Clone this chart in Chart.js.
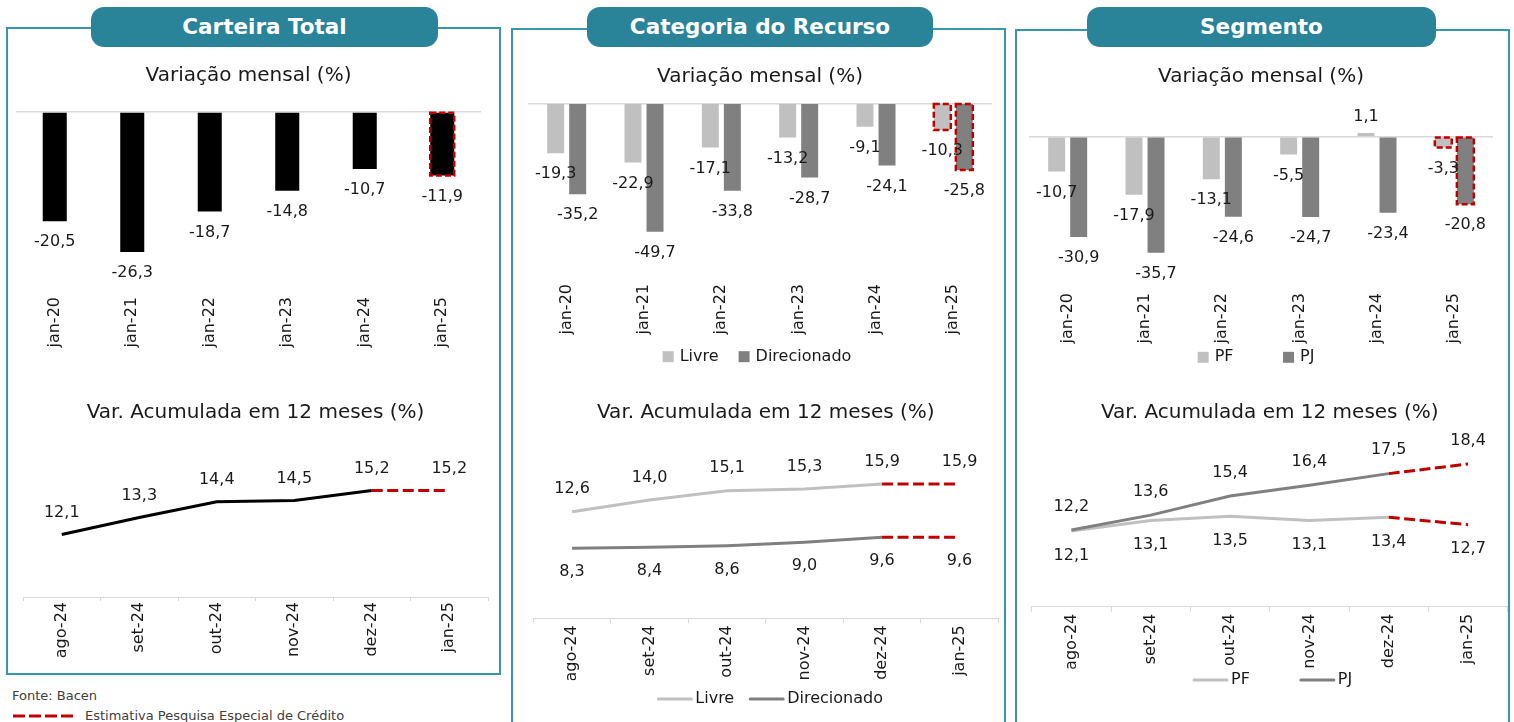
<!DOCTYPE html>
<html>
<head>
<meta charset="utf-8">
<script src="https://cdn.jsdelivr.net/npm/chart.js@4/dist/chart.umd.min.js"></script>
<style>
  body { margin: 0; width: 1514px; height: 722px; overflow: hidden; background: #fff; position: relative; font-family: 'DejaVu Sans', sans-serif; }
  .panel { position: absolute; box-sizing: border-box; border: 2px solid #3596ad; }
  .pill { position: absolute; top: 7px; height: 40px; border-radius: 13px; background: #2a8499; color: #fff;
          font-weight: bold; font-size: 21.5px; line-height: 40px; text-align: center; }
  canvas { position: absolute; }
  .note { position: absolute; font-size: 13px; line-height: 16px; color: #404040; white-space: nowrap; }
</style>
</head>
<body>

<div class="panel" style="left:6px; top:27px; width:495px; height:648px"></div>
<div class="panel" style="left:511px; top:28px; width:495px; height:720px"></div>
<div class="panel" style="left:1015px; top:29px; width:495px; height:720px"></div>

<div class="pill" style="left:91px; width:347px">Carteira Total</div>
<div class="pill" style="left:587px; width:346px">Categoria do Recurso</div>
<div class="pill" style="left:1087px; width:349px">Segmento</div>

<canvas id="barTotal" width="490" height="300" style="left:8px; top:50px"></canvas>
<canvas id="barCateg" width="490" height="325" style="left:514px; top:50px"></canvas>
<canvas id="barSegm" width="490" height="325" style="left:1018px; top:50px"></canvas>
<canvas id="lineTotal" width="490" height="269" style="left:8px; top:390px"></canvas>
<canvas id="lineCateg" width="490" height="327" style="left:514px; top:390px"></canvas>
<canvas id="lineSegm" width="494" height="308" style="left:1018px; top:390px"></canvas>

<div class="note" style="left:12px; top:688px">Fonte: Bacen</div>
<svg style="position:absolute; left:13px; top:713px" width="60" height="6">
  <line x1="0" y1="3" x2="60" y2="3" stroke="#c00000" stroke-width="3" stroke-dasharray="12,4"/>
</svg>
<div class="note" style="left:85px; top:708px">Estimativa Pesquisa Especial de Crédito</div>

<script>
// categorias
const barCats = ['jan-20', 'jan-21', 'jan-22', 'jan-23', 'jan-24', 'jan-25'];
const lineCats = ['ago-24', 'set-24', 'out-24', 'nov-24', 'dez-24', 'jan-25'];

// variação mensal (%)
const totalMensal = [-20.5, -26.3, -18.7, -14.8, -10.7, -11.9];
const livreMensal = [-19.3, -22.9, -17.1, -13.2, -9.1, -10.3];
const direcMensal = [-35.2, -49.7, -33.8, -28.7, -24.1, -25.8];
const pfMensal = [-10.7, -17.9, -13.1, -5.5, 1.1, -3.3];
const pjMensal = [-30.9, -35.7, -24.6, -24.7, -23.4, -20.8];

// var. acumulada em 12 meses (%)
const totalAcum = [12.1, 13.3, 14.4, 14.5, 15.2, 15.2];
const livreAcum = [12.6, 14.0, 15.1, 15.3, 15.9, 15.9];
const direcAcum = [8.3, 8.4, 8.6, 9.0, 9.6, 9.6];
const pfAcum = [12.1, 13.1, 13.5, 13.1, 13.4, 12.7];
const pjAcum = [12.2, 13.6, 15.4, 16.4, 17.5, 18.4];

// jan-25 = estimativa
const estIdx = 5;

const RED = '#c00000';
const TXT = '#1a1a1a';
const FONT = "'DejaVu Sans', sans-serif";

Chart.defaults.font.family = FONT;
Chart.defaults.color = TXT;
Chart.defaults.animation = false;

function fmt(v) {
    return v.toFixed(1).replace('.', ',');
}

// borda tracejada vermelha na barra estimada
const estimateBox = {
    id: 'estimateBox',
    afterDatasetsDraw(chart) {
        if (chart.config.type !== 'bar') return;
        const ctx = chart.ctx;
        ctx.save();
        ctx.strokeStyle = RED;
        ctx.lineWidth = 2.5;
        ctx.setLineDash([6, 3]);
        chart.data.datasets.forEach(function (ds, i) {
            const el = chart.getDatasetMeta(i).data[estIdx];
            if (!el) return;
            const top = Math.min(el.y, el.base);
            ctx.strokeRect(el.x - el.width / 2, top, el.width, Math.abs(el.base - el.y));
        });
        ctx.restore();
    }
};

// rótulos de valores
const valueLabels = {
    id: 'valueLabels',
    afterDatasetsDraw(chart) {
        const ctx = chart.ctx;
        ctx.save();
        ctx.font = '16px ' + FONT;
        ctx.fillStyle = TXT;
        ctx.textAlign = 'center';
        ctx.textBaseline = 'middle';
        chart.data.datasets.forEach(function (ds, i) {
            const meta = chart.getDatasetMeta(i);
            meta.data.forEach(function (el, j) {
                const v = ds.data[j];
                let y;
                if (meta.type === 'bar') {
                    y = v < 0 ? el.y + 21 : el.y - 16;
                } else {
                    y = ds.labelPos === 'below' ? el.y + ds.labelGap : el.y - ds.labelGap;
                }
                ctx.fillText(fmt(v), el.x, y);
            });
        });
        ctx.restore();
    }
};

// legenda no estilo do Excel (espaçamento livre)
const keyLegend = {
    id: 'keyLegend',
    afterDraw(chart, args, opts) {
        if (!opts || opts.y === undefined) return;
        const ctx = chart.ctx;
        const isBar = chart.config.type === 'bar';
        let x = chart.chartArea.left + opts.x;
        ctx.save();
        ctx.font = '16px ' + FONT;
        ctx.textBaseline = 'middle';
        ctx.textAlign = 'left';
        chart.data.datasets.forEach(function (ds) {
            if (isBar) {
                ctx.fillStyle = ds.backgroundColor;
                ctx.fillRect(x, opts.y - 5.5, 11, 11);
                x += 11 + 6;
            } else {
                ctx.strokeStyle = ds.borderColor;
                ctx.lineWidth = 3;
                ctx.lineCap = 'round';
                ctx.beginPath();
                ctx.moveTo(x, opts.y);
                ctx.lineTo(x + 33, opts.y);
                ctx.stroke();
                x += 33 + 4;
            }
            ctx.fillStyle = TXT;
            ctx.fillText(ds.label, x, opts.y);
            x += ctx.measureText(ds.label).width + opts.gap;
        });
        ctx.restore();
    }
};

function barChart(id, datasets, o) {
    return new Chart(document.getElementById(id), {
        type: 'bar',
        data: { labels: barCats, datasets: datasets },
        options: {
            responsive: false,
            events: [],
            layout: { padding: { left: o.padL, right: o.padR, top: 0, bottom: o.padB } },
            plugins: {
                title: {
                    display: true, text: 'Variação mensal (%)', color: TXT,
                    font: { size: 20, weight: 'normal' },
                    padding: { top: o.titleTop, bottom: o.titleBottom }
                },
                legend: { display: false },
                tooltip: { enabled: false },
                keyLegend: o.key || false
            },
            scales: {
                x: {
                    grid: { display: false, drawTicks: false },
                    border: { display: false },
                    ticks: { minRotation: 90, maxRotation: 90, autoSkip: false, padding: 6, color: TXT, font: { size: 16 } },
                    afterFit: function (s) { s.height = o.xH; }
                },
                y: {
                    min: o.min, max: o.max,
                    ticks: { display: false },
                    border: { display: false },
                    grid: {
                        drawTicks: false, lineWidth: 1.5,
                        color: function (c) { return Math.abs(c.tick.value) < 1e-9 ? '#d9d9d9' : 'rgba(0,0,0,0)'; }
                    },
                    afterFit: function (s) { s.width = 0; }
                }
            }
        },
        plugins: [estimateBox, valueLabels, keyLegend]
    });
}

function lineSet(label, data, color, pos, gap) {
    return {
        label: label, data: data,
        borderColor: color, backgroundColor: color,
        borderWidth: 3, pointRadius: 0, tension: 0,
        labelPos: pos, labelGap: gap,
        segment: {
            borderColor: function (c) { return c.p1DataIndex === estIdx ? RED : undefined; },
            borderDash: function (c) { return c.p1DataIndex === estIdx ? [11, 4.5] : undefined; }
        }
    };
}

function lineChart(id, datasets, o) {
    return new Chart(document.getElementById(id), {
        type: 'line',
        data: { labels: lineCats, datasets: datasets },
        options: {
            responsive: false,
            events: [],
            layout: { padding: { left: o.padL, right: o.padR, top: 0, bottom: o.padB } },
            plugins: {
                title: {
                    display: true, text: 'Var. Acumulada em 12 meses (%)', color: TXT,
                    font: { size: 20, weight: 'normal' },
                    padding: { top: o.titleTop, bottom: o.titleBottom }
                },
                legend: { display: false },
                tooltip: { enabled: false },
                keyLegend: o.key || false
            },
            scales: {
                x: {
                    offset: true,
                    grid: { offset: true, drawOnChartArea: false, drawTicks: true, tickLength: o.tickLen, color: '#d9d9d9', lineWidth: 1 },
                    border: { display: true, color: '#d9d9d9', width: 1 },
                    ticks: { minRotation: 90, maxRotation: 90, autoSkip: false, padding: o.tickPad, color: TXT, font: { size: 16 } },
                    afterFit: function (s) { s.height = o.xH; }
                },
                y: { display: false, min: o.min, max: o.max }
            }
        },
        plugins: [valueLabels, keyLegend]
    });
}

// Carteira Total
barChart('barTotal', [
    { label: 'Total', data: totalMensal, backgroundColor: '#000000', barPercentage: 1, categoryPercentage: 0.31 }
], { padL: 8, padR: 17, padB: 0, titleTop: 14, titleBottom: 24, xH: 59, min: -33.6, max: 0 });

lineChart('lineTotal', [
    lineSet('Total', totalAcum, '#000000', 'above', 22)
], { padL: 15, padR: 10, padB: 0, titleTop: 10.7, titleBottom: 24.6, xH: 62, tickLen: 4, tickPad: 1, min: 7.7, max: 18.1 });

// Categoria do Recurso
barChart('barCateg', [
    { label: 'Livre', data: livreMensal, backgroundColor: '#c0c0c0', barPercentage: 0.77, categoryPercentage: 0.57 },
    { label: 'Direcionado', data: direcMensal, backgroundColor: '#808080', barPercentage: 0.77, categoryPercentage: 0.57 }
], { padL: 14, padR: 12, padB: 37, titleTop: 15, titleBottom: 14.3, xH: 60, min: -67.6, max: 0,
     key: { x: 134.7, y: 306.7, gap: 20 } });

lineChart('lineCateg', [
    lineSet('Livre', livreAcum, '#c0c0c0', 'above', 22.5),
    lineSet('Direcionado', direcAcum, '#808080', 'below', 24)
], { padL: 19.3, padR: 5.7, padB: 36.7, titleTop: 10.7, titleBottom: 24.6, xH: 62, tickLen: 5, tickPad: 2, min: 0, max: 20,
     key: { x: 125, y: 309, gap: 16 } });

// Segmento
barChart('barSegm', [
    { label: 'PF', data: pfMensal, backgroundColor: '#c0c0c0', barPercentage: 0.77, categoryPercentage: 0.57 },
    { label: 'PJ', data: pjMensal, backgroundColor: '#808080', barPercentage: 0.77, categoryPercentage: 0.57 }
], { padL: 11, padR: 15, padB: 28, titleTop: 15, titleBottom: 27.7, xH: 60, min: -46.25, max: 6.15,
     key: { x: 168.7, y: 307.3, gap: 49.5 } });

const pfLine = lineSet('PF', pfAcum, '#c0c0c0', 'below', 24.4);
const pjLine = lineSet('PJ', pjAcum, '#808080', 'above', 23.5);
pfLine.order = 1;
pjLine.order = 0;
lineChart('lineSegm', [pfLine, pjLine],
    { padL: 13.7, padR: 4.3, padB: 29.3, titleTop: 10.7, titleBottom: 22.3, xH: 62, tickLen: 5, tickPad: 2, min: 5, max: 20,
      key: { x: 162.3, y: 290, gap: 51 } });
</script>
</body>
</html>
